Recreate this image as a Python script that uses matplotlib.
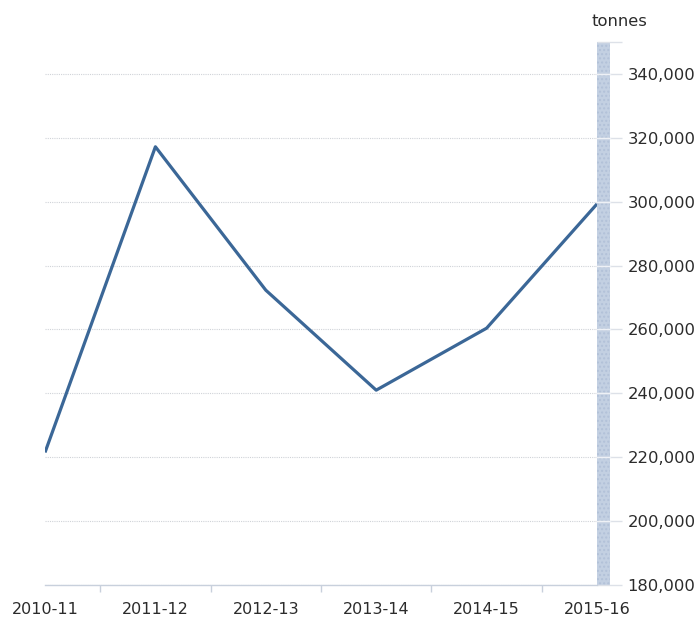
import numpy as np
import matplotlib.pyplot as plt
from matplotlib.patches import Rectangle
from matplotlib.ticker import FixedLocator, FuncFormatter

# ==============================
# DATA
# ==============================

years = ["2010-11", "2011-12", "2012-13", "2013-14", "2014-15", "2015-16"]
tonnes = [221500, 317200, 272300, 241000, 260400, 299300]

y_ticks = [180000, 200000, 220000, 240000, 260000, 280000, 300000, 320000, 340000]
y_min, y_max = 180000, 350000

LINE_COLOR = "#3b6797"
GRID_COLOR = "#d0d3d8"
TEXT_COLOR = "#2b2b2b"
BAR_COLOR = "#c3d0e2"

plt.rcParams["font.family"] = ["DejaVu Sans"]

W, H = 699, 617
fig = plt.figure(figsize=(W / 100, H / 100), dpi=100)

# axes area in pixels: x 45..597, y 42..585
left, right, top, bottom = 45, 597, 42, 585
ax = fig.add_axes([left / W, (H - bottom) / H, (right - left) / W, (bottom - top) / H])

x = np.arange(len(years))
ax.plot(x, tonnes, color=LINE_COLOR, linewidth=2.3, solid_capstyle="butt", zorder=3)

ax.set_xlim(0, len(years) - 1)
ax.set_ylim(y_min, y_max)

# y axis on the right
ax.yaxis.tick_right()
ax.yaxis.set_major_locator(FixedLocator(y_ticks))
ax.yaxis.set_minor_locator(FixedLocator([y_max]))
ax.yaxis.set_major_formatter(FuncFormatter(lambda v, p: f"{int(v):,}"))
ax.tick_params(axis="y", which="major", direction="out", length=18, width=1,
               color="#dde1e8", pad=4, labelsize=11.8, labelcolor=TEXT_COLOR)
ax.tick_params(axis="y", which="minor", direction="out", length=18, width=1,
               color="#dde1e8")

# x axis: labels on categories, marks between them
ax.set_xticks(x)
ax.set_xticklabels(years)
ax.xaxis.set_minor_locator(FixedLocator(x[:-1] + 0.5))
ax.tick_params(axis="x", which="major", length=0, pad=12, labelsize=11.5,
               labelcolor=TEXT_COLOR)
ax.tick_params(axis="x", which="minor", direction="out", length=5, width=1,
               color="#c8d0dc")

# grid
ax.grid(axis="y", which="major", color=GRID_COLOR, linestyle=(0, (1, 1)), linewidth=0.8)
ax.set_axisbelow(True)

for side in ["top", "left", "right"]:
    ax.spines[side].set_visible(False)
ax.spines["bottom"].set_color("#c8d0dc")
ax.spines["bottom"].set_linewidth(1)

# light blue bar next to the y axis
bar_w = 13 / (right - left)
ax.add_patch(Rectangle((1.0, 0.0), bar_w, 1.0, transform=ax.transAxes,
                       facecolor=BAR_COLOR, edgecolor="#b2c1d8", hatch="....",
                       linewidth=0, clip_on=False, zorder=0.5))

# whitish lines where the grid crosses the bar
for v in y_ticks[1:]:
    ax.plot([1.0, 1.0 + bar_w], [v, v], color="#eef1f6", linewidth=1,
            transform=ax.get_yaxis_transform(), clip_on=False, zorder=0.6)

fig.text(619 / W, 1 - 22 / H, "tonnes", ha="center", va="center",
         fontsize=11.8, color=TEXT_COLOR)

fig.savefig("out.png", dpi=100, facecolor="white")
